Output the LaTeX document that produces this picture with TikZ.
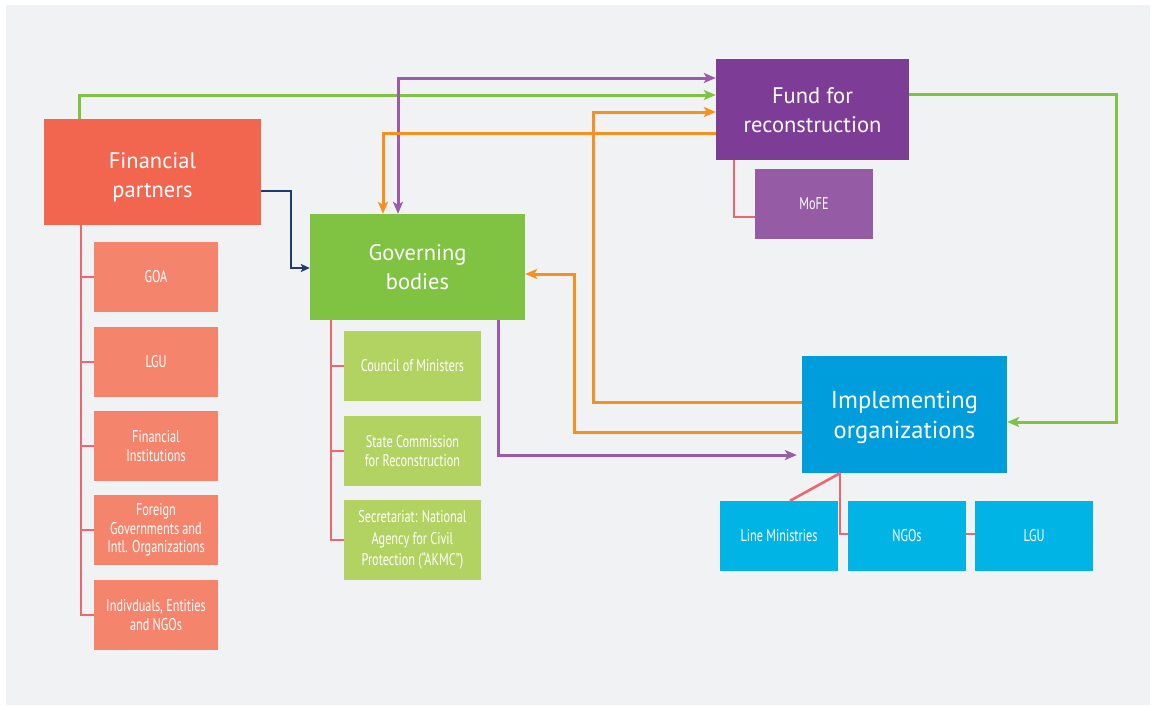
\documentclass[tikz,border=0pt]{standalone}
\usepackage{fontspec}
\setmainfont{PT Sans}
\newfontfamily\condfont[FakeStretch=0.72]{PT Sans}
\usetikzlibrary{arrows.meta}
\definecolor{bgcol}{HTML}{F1F2F4}
\definecolor{fpcol}{HTML}{F26650}
\definecolor{fpsub}{HTML}{F4846C}
\definecolor{gbcol}{HTML}{80C342}
\definecolor{gbsub}{HTML}{B2D362}
\definecolor{fundcol}{HTML}{7D3C96}
\definecolor{mofecol}{HTML}{955BA5}
\definecolor{implcol}{HTML}{009DDC}
\definecolor{implsub}{HTML}{00B5E6}
\definecolor{pinkcol}{HTML}{F0666E}
\definecolor{greenln}{HTML}{80C342}
\definecolor{purpln}{HTML}{9B5BAA}
\definecolor{orangeln}{HTML}{F7901E}
\definecolor{navyln}{HTML}{1F3B70}
\tikzset{
  mainbox/.style={draw=none, inner sep=0pt},
  mainlab/.style={text=white, align=center, inner sep=0pt,
    font=\fontsize{22.5}{29}\selectfont},
  subbox/.style={draw=none, text=white, align=center, inner sep=0pt,
    minimum height=70pt, font=\condfont\fontsize{17}{18.5}\selectfont},
  flowline/.style={line width=3pt, -{Stealth[length=12pt,width=10pt,inset=3pt]}},
  treeline/.style={line width=2.6pt, draw=pinkcol},
}
\begin{document}
\begin{tikzpicture}[x=1pt,y=-1pt]
\useasboundingbox (0,0) rectangle (1151,705);
\fill[bgcol] (6,5) rectangle (1150,705);

% main boxes
\node[mainbox, fill=fpcol, minimum width=217pt, minimum height=106pt,
  label={[mainlab, yshift=-5pt]center:Financial\\partners}] (fp) at (152.5,172) {};
\node[mainbox, fill=gbcol, minimum width=215pt, minimum height=106pt,
  label={[mainlab]center:Governing\\bodies}] (gb) at (417.5,267) {};
\node[mainbox, fill=fundcol, minimum width=193pt, minimum height=101pt,
  label={[mainlab, yshift=-1pt]center:Fund for\\reconstruction}] (fund) at (812.5,109.5) {};
\node[mainbox, fill=implcol, minimum width=205pt, minimum height=117pt,
  label={[mainlab, font=\fontsize{24.5}{30.5}\selectfont, yshift=-3pt]center:Implementing\\organizations}] (impl) at (904.5,414.5) {};

% financial partner subs
\node[subbox, fill=fpsub, minimum width=124pt] (goa) at (156,277) {GOA};
\node[subbox, fill=fpsub, minimum width=124pt] (lguA) at (156,362) {LGU};
\node[subbox, fill=fpsub, minimum width=124pt] (fi) at (156,446) {Financial\\Institutions};
\node[subbox, fill=fpsub, minimum width=124pt] (fg) at (156,530) {Foreign\\Governments and\\Intl. Organizations};
\node[subbox, fill=fpsub, minimum width=124pt] (ind) at (156,615) {Indivduals, Entities\\and NGOs};

% governing subs
\node[subbox, fill=gbsub, minimum width=137pt] (com) at (412.5,366) {Council of Ministers};
\node[subbox, fill=gbsub, minimum width=137pt] (scr) at (412.5,451) {State Commission\\for Reconstruction};
\node[subbox, fill=gbsub, minimum width=137pt, minimum height=80pt, font=\condfont\fontsize{17}{21.5}\selectfont] (sec) at (412.5,540) {Secretariat: National\\Agency for Civil\\Protection (“AKMC”)};

% fund sub
\node[subbox, fill=mofecol, minimum width=118pt] (mofe) at (814,204) {MoFE};

% implementing subs
\node[subbox, fill=implsub, minimum width=118pt] (lm) at (779,536) {Line Ministries};
\node[subbox, fill=implsub, minimum width=118pt] (ngo) at (907,536) {NGOs};
\node[subbox, fill=implsub, minimum width=118pt] (lguB) at (1034,536) {LGU};

% tree lines
\coordinate (fpt) at ([xshift=-71.5pt]fp.south);
\draw[treeline] (fpt) |- (ind.west);
\foreach \n in {goa,lguA,fi,fg} \draw[treeline] (fpt |- \n.west) -- (\n.west);
\coordinate (gbt) at ([xshift=-86.5pt]gb.south);
\draw[treeline] (gbt) |- (sec.west);
\draw[treeline] (gbt |- com.west) -- (com.west);
\draw[treeline] (gbt |- scr.west) -- (scr.west);
\draw[treeline] ([xshift=-78.5pt]fund.south) |- ([yshift=-13pt]mofe.west);
\coordinate (imt) at ([xshift=-64.5pt]impl.south);
\draw[treeline] (imt) -- ([xshift=11pt]lm.north);
\draw[treeline] (imt) |- ([yshift=2pt]ngo.west);
\draw[treeline] ([yshift=2pt]ngo.east) -- ([yshift=2pt]lguB.west);

% flow arrows
\draw[flowline, draw=greenln, color=greenln] ([xshift=-73.5pt]fp.north) |- ([yshift=14.5pt]fund.west);
\draw[flowline, draw=navyln, color=navyln, line width=2.4pt, -{Stealth[length=9pt,width=8pt,inset=2pt]}] ([yshift=-19pt]fp.east) -| ([xshift=-19pt,yshift=-1pt]gb.west) -- ([yshift=-1pt]gb.west);
\draw[flowline, draw=purpln, color=purpln, {Stealth[length=12pt,width=10pt,inset=3pt]}-{Stealth[length=12pt,width=10pt,inset=3pt]}] ([xshift=-19.5pt]gb.north) |- ([yshift=31.5pt]fund.west);
\draw[flowline, draw=orangeln, color=orangeln] ([yshift=-23.5pt]fund.west) -| ([xshift=-34.5pt]gb.north);
\draw[flowline, draw=orangeln, color=orangeln] ([yshift=12.5pt]impl.west) -- ++(-208,0) |- ([yshift=-2.5pt]fund.west);
\draw[flowline, draw=orangeln, color=orangeln] ([yshift=-17.5pt]impl.west) -- ++(-227,0) |- ([yshift=-7pt]gb.east);
\draw[flowline, draw=purpln, color=purpln, shorten >=5pt] ([xshift=80.5pt]gb.south) |- ([yshift=-40.5pt]impl.west);
\draw[flowline, draw=greenln, color=greenln] ([yshift=15pt]fund.east) -- ++(207,0) |- ([yshift=-7.5pt]impl.east);
\end{tikzpicture}
\end{document}
